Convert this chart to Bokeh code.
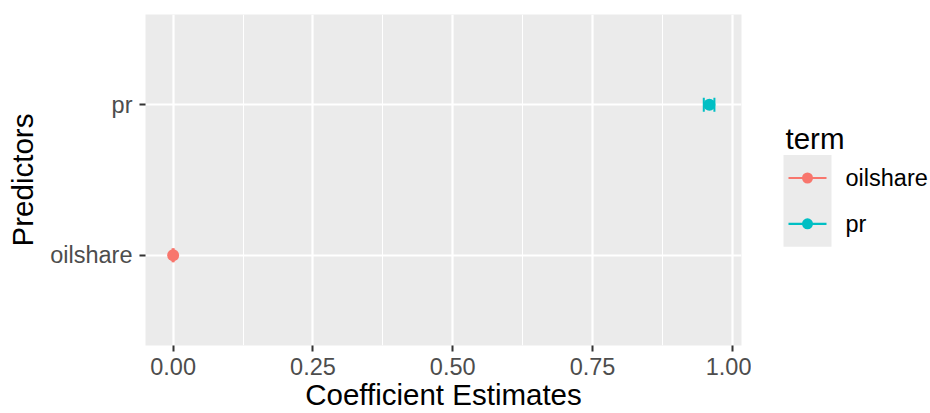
from bokeh.plotting import figure
from bokeh.models import Range1d, FactorRange, FixedTicker, ColumnDataSource
from bokeh.layouts import row
from bokeh.embed import file_html
from bokeh.resources import INLINE
from bokeh.core.properties import value

# ---- data ----
terms = ["oilshare", "pr"]
estimate = [0.000, 0.959]
conf_low = [-0.001, 0.949]
conf_high = [0.001, 0.968]
colors = ["#F8766D", "#00BFC4"]
x_breaks = [0.0, 0.25, 0.5, 0.75, 1.0]
x_labels = ["0.00", "0.25", "0.50", "0.75", "1.00"]
x_minor = [0.125, 0.375, 0.625, 0.875]
x_title = "Coefficient Estimates"
y_title = "Predictors"
legend_title = "term"

FONT = "Liberation Sans"
W, H = 930, 413
LEFT, RIGHT, TOP, BOTTOM = 145, 741, 14, 346  # panel edges on the page
MW = 751                                       # width of the main plot

lo_min, hi_max = min(conf_low), max(conf_high)
span = hi_max - lo_min
xr = Range1d(lo_min - 0.05 * span, hi_max + 0.05 * span)
yr = FactorRange(factors=terms, range_padding=0.1, range_padding_units="absolute")

p = figure(width=MW, height=H, x_range=xr, y_range=yr,
           output_backend="svg", toolbar_location=None,
           min_border_left=LEFT, min_border_right=MW - RIGHT,
           min_border_top=TOP, min_border_bottom=H - BOTTOM)
p.background_fill_color = "#EBEBEB"
p.outline_line_color = None
p.border_fill_color = "white"

# grid
p.xgrid.ticker = FixedTicker(ticks=x_breaks, minor_ticks=x_minor)
p.xgrid.grid_line_color = "white"
p.xgrid.grid_line_width = 2.2
p.xgrid.minor_grid_line_color = "white"
p.xgrid.minor_grid_line_width = 1.1
p.ygrid.grid_line_color = "white"
p.ygrid.grid_line_width = 2.2

# axes
p.xaxis.ticker = FixedTicker(ticks=x_breaks, minor_ticks=[])
p.xaxis.major_label_overrides = {b: l for b, l in zip(x_breaks, x_labels)}
for ax in (p.xaxis[0], p.yaxis[0]):
    ax.axis_line_color = None
    ax.major_tick_line_color = "#333333"
    ax.major_tick_line_width = 2
    ax.major_tick_in = 0
    ax.major_tick_out = 6
    ax.minor_tick_line_color = None
    ax.major_label_text_font = FONT
    ax.major_label_text_font_size = "23.5px"
    ax.major_label_text_color = "#4D4D4D"
    ax.axis_label_text_font = FONT
    ax.axis_label_text_font_size = "29.5px"
    ax.axis_label_text_font_style = "normal"
    ax.axis_label_text_color = "black"
p.xaxis.axis_label = x_title
p.yaxis.axis_label = y_title
p.xaxis.major_label_standoff = 6
p.xaxis.axis_label_standoff = 0
p.yaxis.major_label_standoff = 7
p.yaxis.axis_label_standoff = 8

src = ColumnDataSource(dict(term=terms, est=estimate, lo=conf_low, hi=conf_high, color=colors))

# error bars
p.segment(x0="lo", y0="term", x1="hi", y1="term", line_color="color", line_width=2, source=src)
p.rect(x="lo", y="term", width=2, height=14, width_units="screen", height_units="screen",
       fill_color="color", line_color=None, source=src)
p.rect(x="hi", y="term", width=2, height=14, width_units="screen", height_units="screen",
       fill_color="color", line_color=None, source=src)
# points
p.scatter(x="est", y="term", size=12, marker="circle", fill_color="color", line_color=None, source=src)

# ---- legend as separate panel (its frame is aligned with the main frame) ----
n = len(terms)
LW = W - MW
lg = figure(width=LW, height=H, x_range=Range1d(0, LW), y_range=Range1d(BOTTOM, TOP),
            output_backend="svg", toolbar_location=None,
            x_axis_type=None, y_axis_type=None, min_border=0)
lg.outline_line_color = None
lg.grid.visible = False
lg.background_fill_color = "white"

key_y = [178 + 46 * i for i in range(n)]
lsrc = ColumnDataSource(dict(y=key_y, label=terms, color=colors))
lg.quad(left=[32], right=[80], top=[155], bottom=[155 + 46 * n],
        fill_color="#EBEBEB", line_color=None)
lg.segment(x0=37, y0="y", x1=75, y1="y", line_color="color", line_width=2.2, source=lsrc)
lg.scatter(x=56, y="y", size=11, marker="circle", fill_color="color", line_color=None, source=lsrc)
lg.text(x=94, y="y", text="label", text_font=value(FONT), text_font_size="23.5px",
        text_baseline="middle", text_color="black", source=lsrc)
lg.text(x=[34], y=[138], text=[legend_title], text_font=value(FONT), text_font_size="29.5px",
        text_baseline="alphabetic", text_color="black")

layout = row(p, lg, spacing=0)
open("out.html", "w").write(file_html(layout, INLINE))
